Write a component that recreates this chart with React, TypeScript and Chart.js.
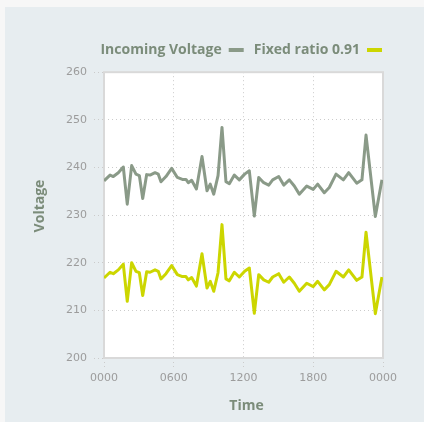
import React, { useEffect, useRef } from "react";
import { Chart, registerables } from "chart.js";

Chart.register(...registerables);

// Time of reading, in hours after midnight
const times = [
  0, 0.52, 0.8, 1.23, 1.66, 2.0, 2.38, 2.75, 3.04, 3.33, 3.67, 3.96, 4.39, 4.67, 4.9,
  5.33, 5.82, 6.31, 6.74, 7.05, 7.25, 7.54, 7.95, 8.43, 8.86, 9.14, 9.44, 9.81, 10.15,
  10.49, 10.78, 11.21, 11.64, 12.1, 12.5, 12.93, 13.31, 13.74, 14.17, 14.51, 15.03,
  15.46, 15.94, 16.37, 16.8, 17.44, 18.0, 18.38, 18.95, 19.38, 19.96, 20.59, 21.05,
  21.74, 22.19, 22.54, 23.34, 23.91,
];

const incomingVoltage = [
  237.2, 238.4, 238.1, 238.9, 240.1, 232.3, 240.4, 238.6, 238.3, 233.5, 238.5, 238.4,
  238.9, 238.6, 237.0, 238.1, 239.8, 237.9, 237.5, 237.5, 236.8, 237.3, 235.5, 242.3,
  235.1, 236.5, 234.4, 238.3, 248.4, 237.0, 236.6, 238.4, 237.4, 238.6, 239.3, 229.8,
  237.9, 236.8, 236.3, 237.4, 238.1, 236.3, 237.4, 236.1, 234.4, 236.1, 235.4, 236.5,
  234.7, 235.8, 238.6, 237.4, 238.9, 236.7, 237.4, 246.8, 229.7, 237.4,
];

const fixedRatio = [
  216.8, 218.0, 217.7, 218.5, 219.7, 211.9, 220.0, 218.2, 217.9, 213.1, 218.1, 218.0,
  218.5, 218.2, 216.6, 217.7, 219.4, 217.5, 217.1, 217.1, 216.4, 216.9, 215.1, 221.9,
  214.7, 216.1, 214.0, 217.9, 228.0, 216.6, 216.2, 218.0, 217.0, 218.2, 218.9, 209.4,
  217.5, 216.4, 215.9, 217.0, 217.7, 215.9, 217.0, 215.7, 214.0, 215.7, 215.0, 216.1,
  214.3, 215.4, 218.2, 217.0, 218.5, 216.3, 217.0, 226.4, 209.3, 217.0,
];

const seriesNames = ["Incoming Voltage", "Fixed ratio 0.91"];
const xTickLabels = ["0000", "0600", "1200", "1800", "0000"];
const yTicks = [200, 210, 220, 230, 240, 250, 260];
const xTitle = "Time";
const yTitle = "Voltage";

const GRAY = "#8a9a88";
const YELLOW = "#ccd600";
const TITLE_COLOR = "#7b8c7a";
const TICK_COLOR = "#9c9c9c";
const GRID_COLOR = "#cbcbcb";

const plotAreaPlugin = {
  id: "plotArea",
  beforeDraw(chart: any) {
    const { ctx, chartArea } = chart;
    ctx.save();
    ctx.fillStyle = "#ffffff";
    ctx.fillRect(chartArea.left, chartArea.top, chartArea.width, chartArea.height);
    ctx.restore();
  },
  beforeDatasetsDraw(chart: any) {
    const { ctx, chartArea } = chart;
    ctx.save();
    ctx.strokeStyle = "#d9d9d9";
    ctx.lineWidth = 2;
    ctx.strokeRect(chartArea.left, chartArea.top, chartArea.width, chartArea.height);
    ctx.restore();
  },
  afterDraw(chart: any) {
    const { ctx } = chart;
    ctx.save();
    ctx.fillStyle = TITLE_COLOR;
    ctx.font = "bold 14px 'Open Sans'";
    ctx.textAlign = "center";
    ctx.textBaseline = "middle";
    ctx.fillText(xTitle, 241.5, 399.5);
    ctx.translate(35, 199);
    ctx.rotate(-Math.PI / 2);
    ctx.fillText(yTitle, 0, 0);
    ctx.restore();
  },
};

export default function App() {
  const ref = useRef<HTMLCanvasElement | null>(null);

  useEffect(() => {
    document.body.style.margin = "0";
    document.body.style.background = "#f7f7f7";
    const canvas = ref.current;
    if (!canvas) return;
    const chart = new Chart(canvas, {
      type: "line",
      data: {
        datasets: [
          {
            label: seriesNames[0],
            data: times.map((t, i) => ({ x: t, y: incomingVoltage[i] })),
            borderColor: GRAY,
            backgroundColor: GRAY,
            borderWidth: 3,
            borderJoinStyle: "round",
            pointRadius: 0,
            tension: 0,
          },
          {
            label: seriesNames[1],
            data: times.map((t, i) => ({ x: t, y: fixedRatio[i] })),
            borderColor: YELLOW,
            backgroundColor: YELLOW,
            borderWidth: 3,
            borderJoinStyle: "round",
            pointRadius: 0,
            tension: 0,
          },
        ],
      },
      options: {
        animation: false,
        responsive: false,
        devicePixelRatio: 1,
        layout: { padding: { top: 26, right: 32, bottom: 0, left: 0 } },
        plugins: {
          tooltip: { enabled: false },
          title: {
            display: true,
            text: "",
            font: { size: 1 },
            padding: { top: 0, bottom: 4 },
          },
          legend: {
            display: true,
            position: "top",
            fullSize: true,
            weight: 3000,
            align: "start",
            rtl: true,
            reverse: true,
            textDirection: "ltr",
            labels: {
              boxWidth: 15,
              boxHeight: 4,
              padding: 10,
              color: TITLE_COLOR,
              font: { family: "'Open Sans'", size: 14, weight: "bold" },
              generateLabels: (chart: any) =>
                chart.data.datasets.map((ds: any, i: number) => ({
                  text: ds.label,
                  fillStyle: ds.borderColor,
                  strokeStyle: ds.borderColor,
                  lineWidth: 0,
                  hidden: false,
                  datasetIndex: i,
                  fontColor: TITLE_COLOR,
                })),
            },
          },
        },
        scales: {
          x: {
            type: "linear",
            min: 0,
            max: 24,
            afterFit: (scale: any) => {
              scale.height = 64;
            },
            afterBuildTicks: (scale: any) => {
              scale.ticks = xTickLabels.map((_, i) => ({ value: i * 6 }));
            },
            ticks: {
              color: TICK_COLOR,
              font: { family: "'DejaVu Sans'", size: 11 },
              padding: 4,
              maxRotation: 0,
              callback: (v: any) => xTickLabels[Math.round(Number(v) / 6)],
            },
            grid: {
              color: GRID_COLOR,
              lineWidth: 1,
              tickLength: 10,
              tickBorderDash: [1, 3],
              tickColor: GRID_COLOR,
            },
            border: { display: false, dash: [1, 3] },
          },
          y: {
            type: "linear",
            min: 200,
            max: 260,
            afterFit: (scale: any) => {
              scale.width = 99;
            },
            afterBuildTicks: (scale: any) => {
              scale.ticks = yTicks.map((v) => ({ value: v }));
            },
            ticks: {
              color: TICK_COLOR,
              font: { family: "'DejaVu Sans'", size: 11 },
              padding: 7,
            },
            grid: {
              color: GRID_COLOR,
              lineWidth: 1,
              tickLength: 10,
              tickBorderDash: [1, 3],
              tickColor: GRID_COLOR,
            },
            border: { display: false, dash: [1, 3] },
          },
          yRight: {
            type: "linear",
            position: "right",
            display: true,
            min: 200,
            max: 260,
            afterFit: (scale: any) => {
              scale.width = 9;
            },
            ticks: { display: false },
            grid: { display: false },
            border: { display: false },
          },
        },
      },
      plugins: [plotAreaPlugin],
    } as any);
    return () => chart.destroy();
  }, []);

  return (
    <div
      style={{
        marginLeft: 5,
        marginTop: 7,
        width: 419,
        height: 415,
        background: "#e7edf0",
      }}
    >
      <canvas ref={ref} width={419} height={415} style={{ display: "block", width: 419, height: 415 }} />
    </div>
  );
}
